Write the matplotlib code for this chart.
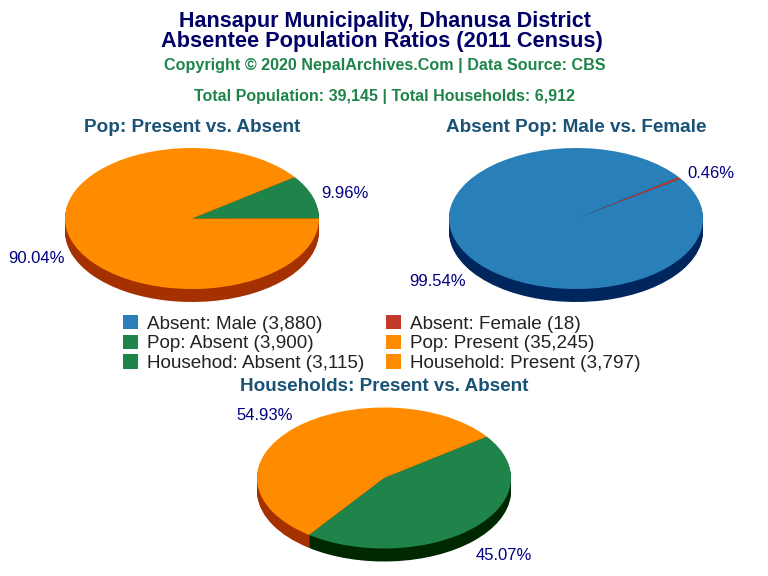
"""3D-style pie charts of absentee population ratios."""

import matplotlib

matplotlib.use("Agg")
import matplotlib.pyplot as plt
from matplotlib.patches import Patch

plt.rcParams["font.family"] = ["Liberation Sans", "DejaVu Sans"]

WIDTH, HEIGHT = 768, 576

BLUE = "#2980B9"
RED = "#C0392B"
GREEN = "#1E8449"
ORANGE = "#FF8C00"
BLUE_DARK = "#00265E"
RED_DARK = "#5C0000"
GREEN_DARK = "#002800"
ORANGE_DARK = "#A63100"
NAVY = "#000066"
LABEL_BLUE = "#000080"
HEAD_BLUE = "#1A5276"

pop_values = [3900, 35245]
absent_values = [18, 3880]
household_values = [3115, 3797]

legend_labels = [
    "Absent: Male (3,880)",
    "Pop: Absent (3,900)",
    "Househod: Absent (3,115)",
    "Absent: Female (18)",
    "Pop: Present (35,245)",
    "Household: Present (3,797)",
]
legend_colors = [BLUE, GREEN, GREEN, RED, ORANGE, ORANGE]


def put_text(fig, x, y, text, **kwargs):
    """Place text using pixel coordinates measured from the top left."""
    fig.text(x / WIDTH, 1 - y / HEIGHT, text, ha="center", va="center", **kwargs)


def draw_pie(fig, cx, cy, values, colors, side_colors, label_xy):
    rx, ry, depth = 127, 70.5, 13
    ax = fig.add_axes([(cx - rx) / WIDTH, 1 - (cy + ry) / HEIGHT,
                       2 * rx / WIDTH, 2 * ry / HEIGHT])
    props = {"linewidth": 0, "clip_on": False}
    # side wall: stacked dark copies of the pie, one pixel apart
    for step in range(depth, 0, -1):
        ax.pie(values, colors=side_colors, startangle=36, counterclock=False,
               center=(0, -step / ry), wedgeprops=props, normalize=True)
    ax.pie(values, colors=colors, startangle=36, counterclock=False,
           wedgeprops=props, normalize=True)
    ax.set_aspect("auto")
    ax.set_xlim(-1, 1)
    ax.set_ylim(-1, 1)
    ax.axis("off")

    total = sum(values)
    for value, (x, y) in zip(values, label_xy):
        put_text(fig, x, y, f"{value / total:.2%}", color=LABEL_BLUE, fontsize=12)


def main():
    fig = plt.figure(figsize=(WIDTH / 100, HEIGHT / 100), dpi=100)

    put_text(fig, 384.5, 21, "Hansapur Municipality, Dhanusa District",
             color=NAVY, fontsize=15.5, fontweight="bold")
    put_text(fig, 382, 41, "Absentee Population Ratios (2011 Census)",
             color=NAVY, fontsize=15.7, fontweight="bold")
    put_text(fig, 384.5, 65.5, "Copyright © 2020 NepalArchives.Com | Data Source: CBS",
             color=GREEN, fontsize=11.6, fontweight="bold")
    put_text(fig, 384.5, 97, "Total Population: 39,145 | Total Households: 6,912",
             color=GREEN, fontsize=11.55, fontweight="bold")

    put_text(fig, 192, 127, "Pop: Present vs. Absent",
             color=HEAD_BLUE, fontsize=13.6, fontweight="bold")
    put_text(fig, 576, 127, "Absent Pop: Male vs. Female",
             color=HEAD_BLUE, fontsize=13.6, fontweight="bold")
    put_text(fig, 384, 386.5, "Households: Present vs. Absent",
             color=HEAD_BLUE, fontsize=13.6, fontweight="bold")

    draw_pie(fig, 192, 218.5, pop_values, [GREEN, ORANGE], [GREEN_DARK, ORANGE_DARK],
             [(344.5, 193), (36.5, 258)])
    draw_pie(fig, 576, 218.5, absent_values, [RED, BLUE], [RED_DARK, BLUE_DARK],
             [(711, 174), (437.5, 282)])
    draw_pie(fig, 384, 478, household_values, [GREEN, ORANGE], [GREEN_DARK, ORANGE_DARK],
             [(504, 555), (264.5, 416)])

    handles = [Patch(facecolor=c, linewidth=0) for c in legend_colors]
    fig.legend(handles, legend_labels, ncol=2, frameon=False, fontsize=13.6,
               loc="upper left", bbox_to_anchor=(123 / WIDTH, 1 - 315 / HEIGHT),
               borderpad=0, borderaxespad=0, handlelength=0.794, handleheight=0.794,
               handletextpad=0.477, labelspacing=0.1, columnspacing=1.165,
               labelcolor="#222222")

    fig.savefig("out.png", dpi=100)
    plt.close(fig)


if __name__ == "__main__":
    main()
